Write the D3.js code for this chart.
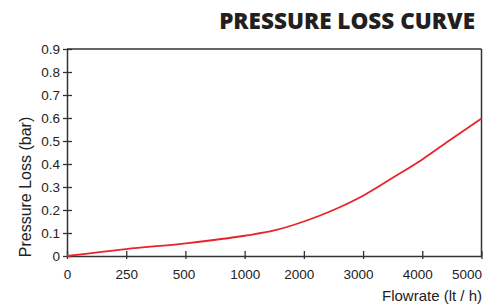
<!doctype html>
<html>
<head>
<script src="https://cdnjs.cloudflare.com/ajax/libs/d3/7.8.5/d3.min.js"></script>
<style>
  body { margin: 0; background: #fff; }
  svg { display: block; }
</style>
</head>
<body>
<svg width="500" height="304"></svg>
<script>
// x ticks are evenly spaced even though the values are not
var flowTicks = [0, 250, 500, 1000, 2000, 3000, 4000, 5000];
var lossTicks = [0, 0.1, 0.2, 0.3, 0.4, 0.5, 0.6, 0.7, 0.8, 0.9];

// curve
var flow = [0, 250, 500, 1000, 1500, 2000, 2500, 3000, 3500, 4000, 4500, 5000];
var loss = [0, 0.030, 0.055, 0.088, 0.111, 0.150, 0.200, 0.262, 0.340, 0.420, 0.510, 0.598];

var svg = d3.select("svg");
var mLeft = 67, mRight = 481.5, mTop = 49, mBottom = 256;

var x = d3.scaleLinear()
  .domain(flowTicks)
  .range(flowTicks.map((d, i) => mLeft + i * (mRight - mLeft) / (flowTicks.length - 1)));
var y = d3.scaleLinear().domain([0, 0.9]).range([mBottom, mTop]);

var ink = "#333";

// frame top + right
svg.append("line").attr("x1", mLeft).attr("x2", mRight).attr("y1", mTop).attr("y2", mTop)
  .style("stroke", ink).style("stroke-width", 1.5);
svg.append("line").attr("x1", mRight).attr("x2", mRight).attr("y1", mTop).attr("y2", mBottom)
  .style("stroke", ink).style("stroke-width", 1.5);

var xAxis = svg.append("g")
  .attr("transform", "translate(0," + mBottom + ")")
  .call(d3.axisBottom(x).tickValues(flowTicks).tickSize(3).tickPadding(10).tickSizeOuter(0)
    .tickFormat(d3.format("d")));
xAxis.selectAll(".tick line").attr("y1", -5);
// labels sit a little left of their ticks, last one flush right
xAxis.selectAll(".tick text")
  .attr("dx", d => d >= 2000 && d < 5000 ? -5 : d === 500 ? -2 : 0)
  .attr("text-anchor", d => d === 5000 ? "end" : "middle");

var yAxis = svg.append("g")
  .attr("transform", "translate(" + mLeft + ",0)")
  .call(d3.axisLeft(y).tickValues(lossTicks).tickSize(4).tickPadding(3).tickSizeOuter(0)
    .tickFormat(d => d === 0 ? "0" : d3.format(".1f")(d)));
yAxis.selectAll(".tick line").attr("x1", 5).attr("x2", -4);

svg.selectAll(".domain").style("stroke", ink).style("stroke-width", 1.5);
svg.selectAll(".tick line").style("stroke", ink).style("stroke-width", 1.3);
svg.selectAll(".tick text")
  .style("font-family", "Liberation Sans, Arial, sans-serif")
  .style("font-size", "13.5px").style("fill", "#222");

var line = d3.line()
  .x((d, i) => x(flow[i]))
  .y(d => y(d))
  .curve(d3.curveMonotoneX);

svg.append("path")
  .datum(loss)
  .attr("d", line)
  .style("fill", "none")
  .style("stroke", "#e8242a")
  .style("stroke-width", 1.8);

svg.append("text")
  .attr("x", 475).attr("y", 28.5)
  .attr("text-anchor", "end")
  .style("font-family", "Open Sans, sans-serif")
  .style("font-weight", 800)
  .style("font-size", "22.5px")
  .style("fill", "#231f20")
  .text("PRESSURE LOSS CURVE");

svg.append("text")
  .attr("x", 482).attr("y", 301)
  .attr("text-anchor", "end")
  .style("font-family", "Liberation Sans, Arial, sans-serif")
  .style("font-size", "15px").style("fill", "#222")
  .text("Flowrate (lt / h)");

svg.append("text")
  .attr("transform", "translate(30.5,187) rotate(-90)")
  .attr("text-anchor", "middle")
  .style("font-family", "Liberation Sans, Arial, sans-serif")
  .style("font-size", "16px").style("fill", "#222")
  .text("Pressure Loss (bar)");
</script>
</body>
</html>
